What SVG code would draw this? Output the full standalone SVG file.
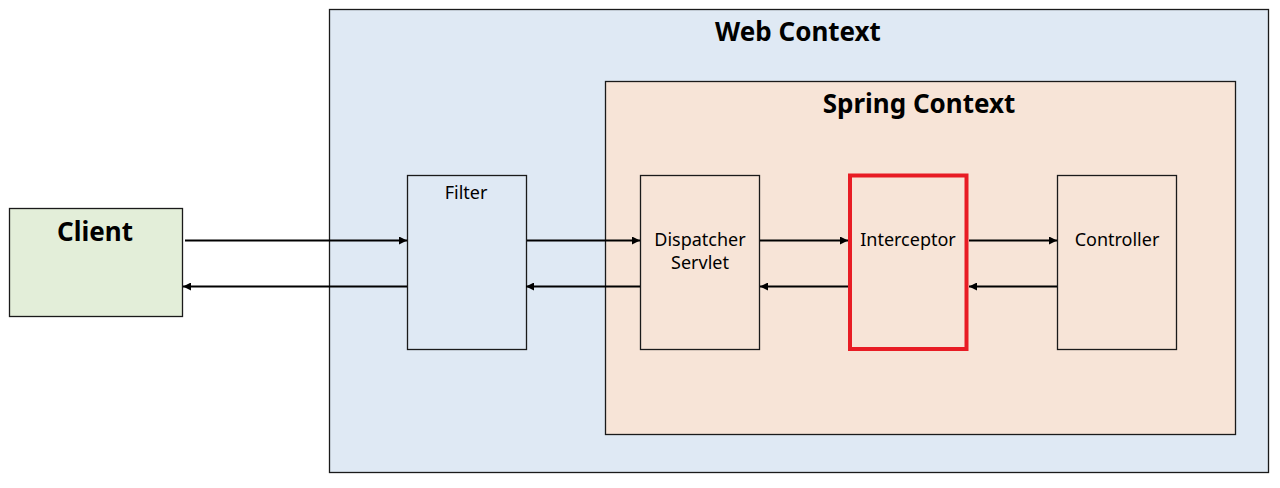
<svg xmlns="http://www.w3.org/2000/svg" width="1280" height="488" viewBox="0 0 1280 488">
<defs>
<marker id="ah" viewBox="0 0 10 10" refX="10" refY="5" markerWidth="8" markerHeight="8" markerUnits="userSpaceOnUse" orient="auto">
<path d="M0,0 L10,5 L0,10 z" fill="#000"/>
</marker>
<style>
.box{stroke:#1a1a1a;stroke-width:1.3}
.t{font-family:"Noto Sans","Open Sans",sans-serif;fill:#000;text-anchor:middle}
.b{font-weight:bold}
.c{stroke:#000;stroke-width:2;fill:none;marker-end:url(#ah)}
</style>
</defs>
<rect width="1280" height="488" fill="#fff"/>
<g id="web-context">
<rect class="box" x="329.5" y="9.5" width="939" height="463" fill="#dfe9f4"/>
<text class="t b" x="798" y="41" font-size="26">Web Context</text>
</g>
<g id="spring-context">
<rect class="box" x="605.5" y="81.5" width="630" height="353" fill="#f7e4d7"/>
<text class="t b" x="919" y="113" font-size="26">Spring Context</text>
</g>
<g id="client">
<rect class="box" x="9.5" y="208.5" width="173" height="108" fill="#e3eed9"/>
<text class="t b" x="95" y="241" font-size="26">Client</text>
</g>
<g id="filter">
<rect class="box" x="407.5" y="175.5" width="119" height="174" fill="#dfe9f4"/>
<text class="t" x="466" y="199" font-size="18">Filter</text>
</g>
<g id="dispatcher">
<rect class="box" x="640.5" y="175.5" width="119" height="174" fill="#f7e4d7"/>
<text class="t" x="700" y="246" font-size="18">Dispatcher</text>
<text class="t" x="700" y="269" font-size="18">Servlet</text>
</g>
<g id="interceptor">
<rect x="850" y="175.5" width="116.5" height="173.5" fill="#f7e4d7" stroke="#e81c24" stroke-width="4"/>
<text class="t" x="908" y="246" font-size="18">Interceptor</text>
</g>
<g id="controller">
<rect class="box" x="1057.5" y="175.5" width="119" height="174" fill="#f7e4d7"/>
<text class="t" x="1117" y="246" font-size="18">Controller</text>
</g>
<g id="connectors">
<line class="c" x1="185" y1="240.5" x2="407" y2="240.5"/>
<line class="c" x1="407" y1="286.5" x2="183" y2="286.5"/>
<line class="c" x1="527" y1="240.5" x2="640" y2="240.5"/>
<line class="c" x1="640" y1="286.5" x2="526" y2="286.5"/>
<line class="c" x1="760" y1="240.5" x2="848" y2="240.5"/>
<line class="c" x1="848" y1="286.5" x2="760" y2="286.5"/>
<line class="c" x1="969" y1="240.5" x2="1057" y2="240.5"/>
<line class="c" x1="1057" y1="286.5" x2="969" y2="286.5"/>
</g>
</svg>
